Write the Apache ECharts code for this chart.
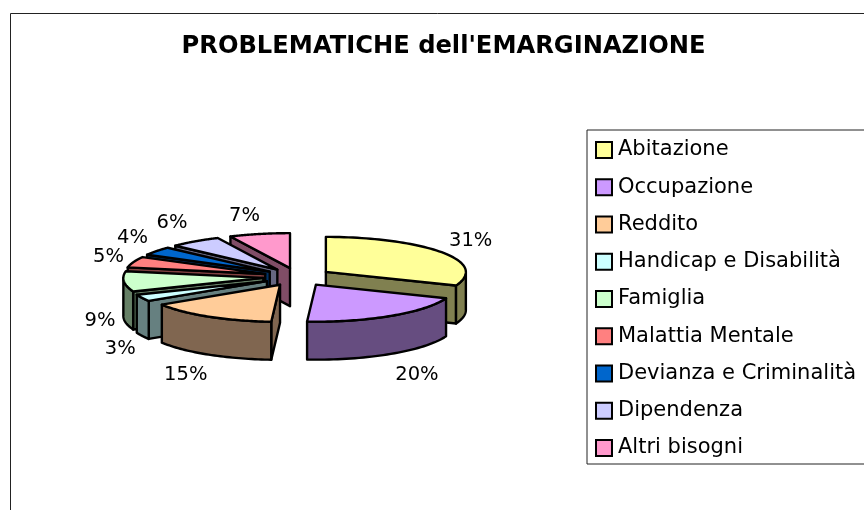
<!DOCTYPE html>
<html>
<head>
<meta charset="utf-8">
<style>
  html, body { margin: 0; padding: 0; background: #fff; overflow: hidden; }
  #chart { width: 864px; height: 510px; }
</style>
<script src="https://cdn.jsdelivr.net/npm/echarts@6/dist/echarts.min.js"></script>
</head>
<body>
<div id="chart"></div>
<script>
  var categories = ['Abitazione', 'Occupazione', 'Reddito', 'Handicap e Disabilità', 'Famiglia',
    'Malattia Mentale', 'Devianza e Criminalità', 'Dipendenza', 'Altri bisogni'];
  var values = [31, 20, 15, 3, 9, 5, 4, 6, 7];
  var colors = ['#FFFF99', '#CC99FF', '#FFCC99', '#CCFFFF', '#CCFFCC', '#FF8080', '#0066CC', '#CCCCFF', '#FF99CC'];
  var sideColors = ['#808050', '#664D80', '#806650', '#668080', '#668066', '#804040', '#003366', '#666680', '#804D66'];
  // label nudge from the rim point of each slice
  var labelNudge = [[29, -11], [26, 59], [-23, 58], [-22, 51], [-24, 40], [-25, -5], [-24, -13], [-23, -18], [-15, -18]];

  var fontName = '"DejaVu Sans", sans-serif';
  // ryBack is a bit shorter than ryFront, the far side of the pie looks smaller
  var pie = { cx: 297.5, cy: 277, rx: 140, ryBack: 35, ryFront: 37, depth: 38, explode: 0.245 };

  var total = values.reduce(function (a, b) { return a + b; }, 0);
  var starts = [];
  values.reduce(function (sum, v, i) { starts[i] = sum; return sum + v; }, 0);

  function toAngle(v) {
    return echarts.number.linearMap(v, [0, total], [0, Math.PI * 2]);
  }
  // 0 is twelve o'clock, going clockwise
  function rimPoint(ox, oy, a, drop) {
    var c = Math.cos(a);
    return [ox + pie.rx * Math.sin(a), oy - (c > 0 ? pie.ryBack : pie.ryFront) * c + (drop || 0)];
  }
  function apexOf(i) {
    var mid = toAngle(starts[i] + values[i] / 2);
    return [pie.cx + pie.rx * pie.explode * Math.sin(mid), pie.cy - pie.ryFront * pie.explode * Math.cos(mid)];
  }
  function poly(points, fill, z2) {
    return {
      type: 'polygon',
      z2: z2,
      shape: { points: points },
      style: { fill: fill, stroke: '#000', lineWidth: 2.4, lineJoin: 'round' }
    };
  }

  function renderSlice(params, api) {
    var i = params.seriesIndex;
    var a0 = toAngle(starts[i]);
    var a1 = toAngle(starts[i] + api.value(0));
    var apex = apexOf(i);
    var ox = apex[0], oy = apex[1];
    var children = [];

    // radial walls, only the ones that face the viewer
    [[a0, Math.sin(a0) < -1e-6], [a1, Math.sin(a1) > 1e-6]].forEach(function (w) {
      if (!w[1]) return;
      var p = rimPoint(ox, oy, w[0]);
      children.push(poly([[ox, oy], p, [p[0], p[1] + pie.depth], [ox, oy + pie.depth]], sideColors[i], 1));
    });

    // outer rim, only the front half
    var r0 = Math.max(a0, Math.PI / 2), r1 = Math.min(a1, Math.PI * 1.5);
    if (r1 > r0) {
      var upper = [], lower = [];
      for (var s = 0; s <= 40; s++) {
        var a = r0 + (r1 - r0) * s / 40;
        upper.push(rimPoint(ox, oy, a));
        lower.unshift(rimPoint(ox, oy, a, pie.depth));
      }
      children.push(poly(upper.concat(lower), sideColors[i], 2));
    }

    // top face
    var top = [[ox, oy]];
    for (var t = 0; t <= 60; t++) {
      top.push(rimPoint(ox, oy, a0 + (a1 - a0) * t / 60));
    }
    children.push(poly(top, colors[i], 3));

    // percent label
    var mid = (a0 + a1) / 2;
    var rim = rimPoint(ox, oy, mid);
    children.push({
      type: 'text',
      z2: 4,
      style: {
        x: rim[0] + labelNudge[i][0],
        y: rim[1] + labelNudge[i][1],
        text: Math.round(api.value(0) / total * 100) + '%',
        fill: '#000',
        font: '19.5px ' + fontName,
        align: 'center',
        verticalAlign: 'middle'
      }
    });
    return { type: 'group', children: children };
  }

  // back slices get painted first
  var paintOrder = categories.map(function (c, i) { return i; }).sort(function (a, b) {
    return apexOf(a)[1] - apexOf(b)[1];
  });

  var chart = echarts.init(document.getElementById('chart'));
  chart.setOption({
    animation: false,
    backgroundColor: '#fff',
    title: {
      text: "PROBLEMATICHE dell'EMARGINAZIONE",
      left: 443.5,
      top: 46.5,
      padding: 0,
      textAlign: 'center',
      textVerticalAlign: 'middle',
      textStyle: { fontFamily: fontName, fontSize: 24.2, fontWeight: 'bold', color: '#000' }
    },
    graphic: [{
      type: 'rect',
      silent: true,
      z: -10,
      shape: { x: 10.5, y: 13.5, width: 900, height: 600 },
      style: { fill: 'none', stroke: '#222', lineWidth: 1 }
    }],
    legend: {
      data: categories,
      orient: 'vertical',
      left: 587,
      top: 130,
      padding: [9.5, 30, 5.5, 8],
      itemWidth: 16,
      itemHeight: 16,
      itemGap: 16.25,
      icon: 'rect',
      selectedMode: false,
      borderColor: '#222',
      borderWidth: 1,
      itemStyle: { borderColor: '#000', borderWidth: 2 },
      textStyle: { fontFamily: fontName, fontSize: 21, lineHeight: 16, color: '#000', padding: [0, 0, 0, 1] }
    },
    series: categories.map(function (name, i) {
      return {
        type: 'custom',
        name: name,
        coordinateSystem: 'none',
        silent: true,
        z: 2 + paintOrder.indexOf(i),
        itemStyle: { color: colors[i] },
        renderItem: renderSlice,
        data: [[values[i]]]
      };
    })
  });
</script>
</body>
</html>
